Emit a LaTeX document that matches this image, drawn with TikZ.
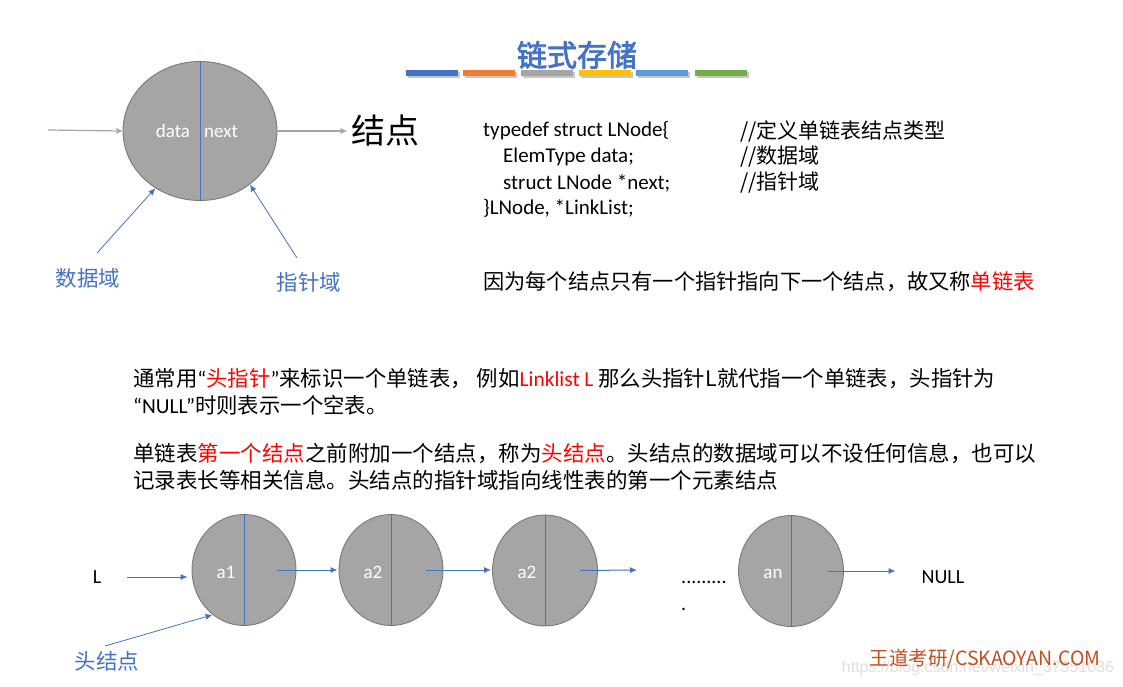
\documentclass[tikz,border=0pt]{standalone}
\usepackage{fontspec}
\setmainfont{Carlito}
\newfontfamily\cjk{Noto Sans CJK SC}
\newfontfamily\cjkbold[FakeBold=2.5]{Noto Sans CJK SC}
\newfontfamily\wmfont{Liberation Sans}
\usetikzlibrary{shapes.geometric,arrows.meta,calc}
\definecolor{tblue}{HTML}{4472C4}
\definecolor{torange}{HTML}{ED7D31}
\definecolor{tgray}{HTML}{A5A5A5}
\definecolor{tgold}{HTML}{FFC000}
\definecolor{tlblue}{HTML}{5B9BD5}
\definecolor{tgreen}{HTML}{70AD47}
\definecolor{nodefill}{HTML}{A5A5A5}
\definecolor{nodeedge}{HTML}{7A7A7A}
\definecolor{wdred}{HTML}{C0501F}
\definecolor{tred}{HTML}{FF0000}
\definecolor{grayarrow}{HTML}{A6A6A6}
\tikzset{
  lnode/.style={ellipse, draw=nodeedge, line width=0.9pt, fill=nodefill, inner sep=0pt},
  divider/.style={draw=tblue, line width=1pt},
  garrow/.style={draw=grayarrow, line width=1.2pt, -{Stealth[length=7pt,width=6pt]}},
  barrow/.style={draw=tblue, line width=1pt, -{Latex[length=7pt,width=6pt]}},
  txt/.style={inner sep=0pt, anchor=west},
  wtxt/.style={inner sep=0pt, anchor=base, text=white, font=\fontsize{19}{22}\selectfont},
}
\begin{document}
\begin{tikzpicture}[x=1pt,y=-1pt]
\useasboundingbox (0,0) rectangle (1123,687);
\fill[white] (0,0) rectangle (1123,687);

% title
\node[inner sep=0pt, font=\cjkbold\fontsize{30}{36}\selectfont, text=tblue] (title) at (577,55) {链式存储};
\foreach \x/\c in {406/tblue,463/torange,521/tgray,579/tgold,636/tlblue,695/tgreen}{
  \fill[black!22] (\x+1.5,72.5) rectangle (\x+53.5,78);
  \fill[\c] (\x,70.5) rectangle (\x+52,76.5);
}

% top node
\node[lnode, minimum width=154pt, minimum height=139pt] (top) at (200,131) {};
\draw[divider] (top.north) -- (top.south);
\node[wtxt] (data) at (173,138) {data};
\node[wtxt] (next) at (221,138) {next};
\coordinate (inL) at (48,130);
\draw[garrow] (inL) -- (top.west);
\node[inner sep=0pt, font=\cjk\fontsize{34}{40}\selectfont] (jd) at (385,131) {结点};
\draw[garrow] (top.east) -- ([xshift=-4pt]jd.west);

\node[inner sep=0pt, font=\cjk\fontsize{21.5}{26}\selectfont, text=tblue] (sjy) at (88,278) {数据域};
\node[inner sep=0pt, font=\cjk\fontsize{21.5}{26}\selectfont, text=tblue] (zzy) at (309,282) {指针域};
\draw[barrow, line width=0.8pt] ([shift={(9pt,25pt)}]sjy.center) -- (top.232);
\draw[barrow, line width=0.8pt] ([shift={(-12pt,24pt)}]zzy.center) -- (top.313);

% code
\node[txt, font=\fontsize{21}{25}\selectfont] (c1) at (483,131) {typedef struct LNode\{};
\node[txt, font=\fontsize{21}{25}\selectfont] (c2) at (503,157) {ElemType data;};
\node[txt, font=\fontsize{21}{25}\selectfont] (c3) at (503,183) {struct LNode *next;};
\node[txt, font=\fontsize{21}{25}\selectfont] (c4) at (483,208) {\}LNode, *LinkList;};
\node[txt, font=\cjk\fontsize{21}{25}\selectfont] (m1) at (740,131) {//定义单链表结点类型};
\node[txt, font=\cjk\fontsize{21}{25}\selectfont] (m2) at (740,157) {//数据域};
\node[txt, font=\cjk\fontsize{21}{25}\selectfont] (m3) at (740,183) {//指针域};

\node[txt, font=\cjk\fontsize{21.2}{25}\selectfont] (why) at (483,282) {因为每个结点只有一个指针指向下一个结点，故又称\textcolor{tred}{单链表}};

% paragraphs
\node[txt, font=\cjk\fontsize{21.4}{26}\selectfont] (p1) at (133,379) {通常用{\rmfamily“}\textcolor{tred}{头指针}{\rmfamily”}来标识一个单链表， 例如\textcolor{tred}{\rmfamily Linklist L }那么头指针L就代指一个单链表，头指针为};
\node[txt, font=\cjk\fontsize{21.4}{26}\selectfont] (p2) at (133,405) {{\rmfamily“NULL”}时则表示一个空表。};
\node[txt, font=\cjk\fontsize{21.5}{26}\selectfont] (p3) at (133,454) {单链表\textcolor{tred}{第一个结点}之前附加一个结点，称为\textcolor{tred}{头结点}。头结点的数据域可以不设任何信息，也可以};
\node[txt, font=\cjk\fontsize{21.5}{26}\selectfont] (p4) at (133,480) {记录表长等相关信息。头结点的指针域指向线性表的第一个元素结点};

% linked list
\node[lnode, minimum width=104pt, minimum height=111pt] (n1) at (244,570) {};
\node[lnode, minimum width=104pt, minimum height=111pt] (n2) at (391,570) {};
\node[lnode, minimum width=105pt, minimum height=111pt] (n3) at (545,570.5) {};
\node[lnode, minimum width=105pt, minimum height=111pt] (nn) at (791,571) {};
\foreach \n in {n1,n2,n3,nn}{\draw[divider] (\n.north) -- (\n.south);}
\node[wtxt] (t1) at (226,578) {a1};
\node[wtxt] (t2) at (373,578) {a2};
\node[wtxt] (t3) at (527,578) {a2};
\node[wtxt] (tn) at (773,578) {an};

\node[inner sep=0pt, font=\fontsize{20}{24}\selectfont] (L) at (97,577) {L};
\draw[barrow] ([xshift=26pt]L.east) -- ([xshift=-4pt]n1.west |- L.east);
\draw[barrow] ([xshift=33pt]n1.center) -- ([xshift=-1pt]n2.west);
\draw[barrow] ([xshift=35pt]n2.center) -- ([xshift=-1pt]n3.west |- n2.center);
\coordinate (dotsend) at (637,570);
\draw[barrow] ([xshift=35pt]n3.center) -- (dotsend);
\node[inner sep=0pt, font=\fontsize{20}{24}\selectfont, anchor=base west] (dots) at (681,583) {.........};
\node[inner sep=0pt, font=\fontsize{20}{24}\selectfont, anchor=base west] (dot2) at (681,610) {.};
\node[inner sep=0pt, font=\fontsize{20}{24}\selectfont] (null) at (943,577) {NULL};
\draw[barrow] ([xshift=37pt]nn.center) -- ([xshift=-26pt]null.west |- nn.center);

\node[inner sep=0pt, font=\cjk\fontsize{21.5}{26}\selectfont, text=tblue] (hn) at (107,661) {头结点};
\draw[barrow, line width=0.8pt] ([shift={(-2pt,15pt)}]hn.center) -- (n1.235);

% watermarks
\node[inner sep=0pt, font=\wmfont\fontsize{16}{19}\selectfont, text=black!12] (csdn) at (978,668) {https://blog.csdn.net/weixin\_37551036};
\node[inner sep=0pt, font=\cjk\fontsize{19.5}{23}\selectfont, text=wdred] (wd) at (985,659) {王道考研/CSKAOYAN.COM};
\end{tikzpicture}
\end{document}
